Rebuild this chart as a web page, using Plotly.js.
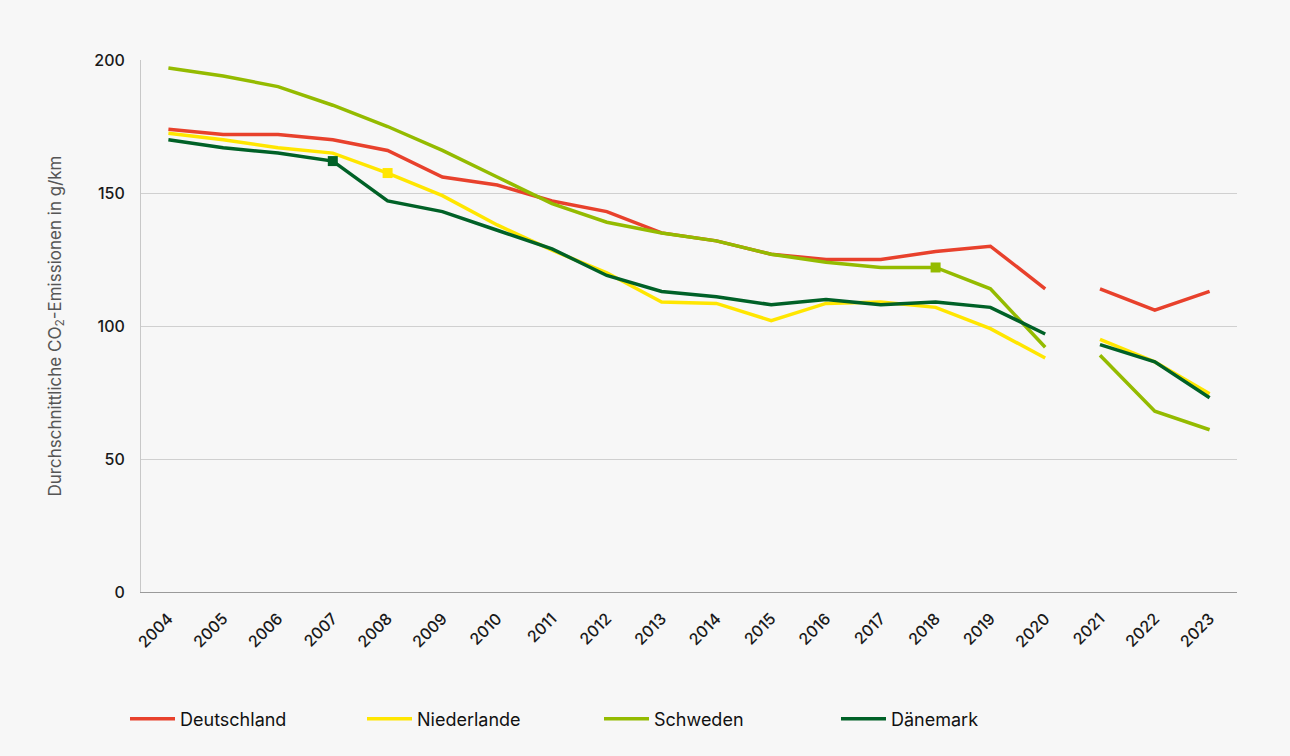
<!DOCTYPE html>
<html>
<head>
<meta charset="utf-8">
<script src="https://cdn.plot.ly/plotly-3.0.1.min.js"></script>
<style>
html,body{margin:0;padding:0;background:#f7f7f7;}
#chart{width:1290px;height:756px;}
</style>
</head>
<body>
<div id="chart"></div>
<script>
var years = ['2004','2005','2006','2007','2008','2009','2010','2011','2012','2013','2014','2015','2016','2017','2018','2019','2020','2021','2022','2023'];
var deutschland = [174,172,172,170,166,156,153,147,143,135,132,127,125,125,128,130,114,114,106,113];
var niederlande = [172.5,170,167,165,157.5,149,138,128.5,120,109,108.5,102,108.5,109,107,99,88,95,86.5,74.5];
var schweden   = [197,194,190,183,175,166,156,146,139,135,132,127,124,122,122,114,92,89,68,61];
var daenemark  = [170,167,165,162,147,143,136,129,119,113,111,108,110,108,109,107,97,93,86.5,73];

var names  = ['Deutschland','Niederlande','Schweden','Dänemark'];
var colors = ['#e8412c','#ffe600','#94bb00','#006127'];
var series = [deutschland, niederlande, schweden, daenemark];
var highlightYear = [null, '2008', '2018', '2007'];
var breakAfter = '2020';

var traces = [];
var markerTraces = [];
var cut = years.indexOf(breakAfter) + 1;
series.forEach(function(vals, i){
  traces.push({
    x: years.slice(0, cut), y: vals.slice(0, cut), name: names[i],
    type: 'scatter', mode: 'lines',
    line: {color: colors[i], width: 3.5},
    legendgroup: names[i], showlegend: true
  });
  traces.push({
    x: years.slice(cut), y: vals.slice(cut), name: names[i],
    type: 'scatter', mode: 'lines',
    line: {color: colors[i], width: 3.5},
    legendgroup: names[i], showlegend: false
  });
  if (highlightYear[i]) {
    var k = years.indexOf(highlightYear[i]);
    markerTraces.push({
      x: [years[k]], y: [vals[k]], name: names[i],
      type: 'scatter', mode: 'markers',
      marker: {symbol: 'square', size: 10, color: colors[i], line: {width: 0}},
      legendgroup: names[i], showlegend: false
    });
  }
});
traces = traces.concat(markerTraces);

var layout = {
  width: 1290, height: 756,
  paper_bgcolor: '#f7f7f7', plot_bgcolor: '#f7f7f7',
  margin: {l: 141, r: 53, t: 60, b: 164},
  showlegend: true,
  legend: {
    orientation: 'h', x: -0.0146, xanchor: 'left', y: -0.239, yanchor: 'middle',
    font: {family: 'Inter, sans-serif', size: 18, color: '#111'},
    entrywidth: 177, entrywidthmode: 'pixels', itemwidth: 45,
    bgcolor: 'rgba(0,0,0,0)'
  },
  xaxis: {
    type: 'category', categoryorder: 'array', categoryarray: years,
    range: [-0.5, 19.5],
    tickangle: -45, showgrid: false, showline: true, linecolor: '#9a9a9a', linewidth: 1,
    ticks: '', ticklabelstandoff: 10,
    tickfont: {family: 'Inter, sans-serif', size: 16, color: '#1a1a1a', weight: 500},
    zeroline: false
  },
  yaxis: {
    range: [0, 200], dtick: 50, tick0: 0,
    showgrid: true, gridcolor: '#d0d0d0', gridwidth: 1,
    showline: true, linecolor: '#c8c8c8', linewidth: 1,
    zeroline: false, ticks: '', ticklabelstandoff: 12,
    tickfont: {family: 'Inter, sans-serif', size: 16, color: '#1a1a1a', weight: 500},
    title: {text: 'Durchschnittliche CO<sub>2</sub>-Emissionen in g/km', standoff: 28,
            font: {family: 'Inter, sans-serif', size: 17, color: '#555'}},
    automargin: false
  }
};

Plotly.newPlot('chart', traces, layout, {displayModeBar: false, staticPlot: true});
</script>
</body>
</html>
